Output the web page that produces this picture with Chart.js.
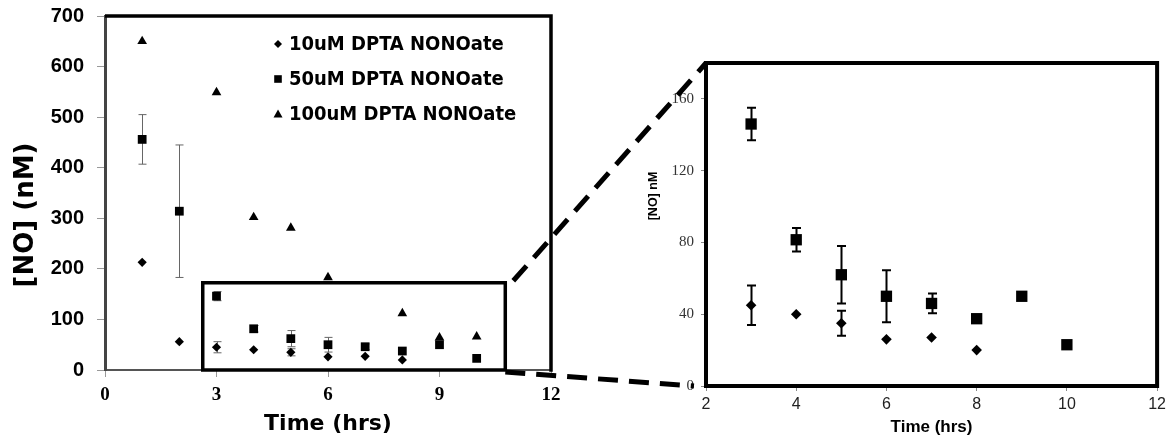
<!DOCTYPE html>
<html>
<head>
<meta charset="utf-8">
<script src="https://cdn.jsdelivr.net/npm/chart.js@4.4.0/dist/chart.umd.min.js"></script>
<style>
  body { margin: 0; background: #fff; }
  #wrap { position: relative; width: 1170px; height: 442px; }
  canvas { position: absolute; top: 0; }
  #mainChart { left: 0; }
  #zoomChart { left: 640px; }
  #overlay { left: 0; pointer-events: none; }
</style>
</head>
<body>
<div id="wrap">
  <canvas id="mainChart" width="600" height="442"></canvas>
  <canvas id="zoomChart" width="530" height="442"></canvas>
  <canvas id="overlay" width="1170" height="442"></canvas>
</div>
<script>
// values (nM)
const times = [1, 2, 3, 4, 5, 6, 7, 8, 9, 10];
const no10uM = [213, 56, 45, 40, 35, 26, 27, 20, null, null];
const no10uMErr = [0, 0, 11, 0, 7, 0, 0, 0, 0, 0];
const no50uM = [456, 314, 146, 81.5, 62, 50, 46, 37.5, 50, 23];
const no50uMErr = [49, 131, 9, 6.5, 16, 14.5, 5.5, 0, 0, 0];
const no100uM = [650, null, 549, 302, 281, 183, null, 112, 64, 66];
const seriesLabels = ["10uM DPTA NONOate", "50uM DPTA NONOate", "100uM DPTA NONOate"];

const mainXTicks = [0, 3, 6, 9, 12];
const mainYTicks = [0, 100, 200, 300, 400, 500, 600, 700];
const zoomXTicks = [2, 4, 6, 8, 10, 12];
const zoomYTicks = [0, 40, 80, 120, 160];
// region of the main chart that is blown up on the right
const zoomRange = { xMin: 2.63, xMax: 10.77, yMin: 0, yMax: 172.5 };

function toPoints(values, errors, keep) {
  return times
    .map((t, i) => ({ x: t, y: values[i], err: errors ? errors[i] : 0 }))
    .filter(p => p.y !== null && (!keep || keep(p)));
}

function setTicks(list) {
  return scale => { scale.ticks = list.map(v => ({ value: v })); };
}

const errorBars = {
  id: "errorBars",
  beforeDatasetsDraw(chart, args, opts) {
    const ctx = chart.ctx;
    const yScale = chart.scales.y;
    ctx.save();
    ctx.strokeStyle = opts.color;
    ctx.lineWidth = opts.width;
    chart.data.datasets.forEach((ds, di) => {
      const meta = chart.getDatasetMeta(di);
      ds.data.forEach((p, i) => {
        if (!p.err) return;
        const x = Math.round(meta.data[i].x) + 0.5;
        const top = yScale.getPixelForValue(p.y + p.err);
        const bottom = yScale.getPixelForValue(p.y - p.err);
        ctx.beginPath();
        ctx.moveTo(x, top);
        ctx.lineTo(x, bottom);
        ctx.moveTo(x - opts.cap, top);
        ctx.lineTo(x + opts.cap, top);
        ctx.moveTo(x - opts.cap, bottom);
        ctx.lineTo(x + opts.cap, bottom);
        ctx.stroke();
      });
    });
    ctx.restore();
  }
};

// top and right edges of the plot box
const frame = {
  id: "frame",
  afterDraw(chart, args, opts) {
    const { ctx, chartArea: a } = chart;
    ctx.save();
    ctx.strokeStyle = opts.color;
    ctx.lineWidth = opts.width;
    ctx.beginPath();
    ctx.moveTo(a.left, a.top);
    ctx.lineTo(a.right, a.top);
    ctx.lineTo(a.right, a.bottom + opts.width / 2);
    ctx.stroke();
    ctx.restore();
  }
};

const zoomBox = {
  id: "zoomBox",
  afterDatasetsDraw(chart) {
    const { ctx, scales } = chart;
    const x1 = scales.x.getPixelForValue(zoomRange.xMin);
    const x2 = scales.x.getPixelForValue(zoomRange.xMax);
    const y1 = scales.y.getPixelForValue(zoomRange.yMax);
    const y2 = scales.y.getPixelForValue(zoomRange.yMin);
    ctx.save();
    ctx.strokeStyle = "#000";
    ctx.lineWidth = 3.5;
    ctx.strokeRect(x1, y1, x2 - x1, y2 - y1);
    ctx.restore();
  }
};

function drawMarker(ctx, style, x, y, r) {
  ctx.beginPath();
  if (style === "rectRot") {
    ctx.moveTo(x - r, y); ctx.lineTo(x, y - r); ctx.lineTo(x + r, y); ctx.lineTo(x, y + r);
  } else if (style === "rect") {
    ctx.rect(x - r, y - r, 2 * r, 2 * r);
  } else {
    ctx.moveTo(x, y - r); ctx.lineTo(x + r, y + r * 0.8); ctx.lineTo(x - r, y + r * 0.8);
  }
  ctx.closePath();
  ctx.fill();
}

const legendBox = {
  id: "legendBox",
  afterDraw(chart, args, opts) {
    const ctx = chart.ctx;
    ctx.save();
    ctx.fillStyle = "#000";
    ctx.font = opts.font;
    ctx.textBaseline = "middle";
    chart.data.datasets.forEach((ds, i) => {
      const y = opts.y + i * opts.rowGap;
      drawMarker(ctx, ds.pointStyle, opts.x, y, opts.markerSize[i]);
      ctx.fillText(ds.label, opts.x + 11, y + 1);
    });
    ctx.restore();
  }
};

const sideTitle = {
  id: "sideTitle",
  afterDraw(chart, args, opts) {
    const ctx = chart.ctx;
    ctx.save();
    ctx.translate(opts.x, opts.y);
    ctx.rotate(-Math.PI / 2);
    ctx.font = opts.font;
    ctx.fillStyle = "#000";
    ctx.textAlign = "center";
    ctx.textBaseline = "middle";
    ctx.fillText(opts.text, 0, 0);
    ctx.restore();
  }
};

const mainChart = new Chart(document.getElementById("mainChart"), {
  type: "scatter",
  data: {
    datasets: [
      { label: seriesLabels[0], data: toPoints(no10uM, no10uMErr), pointStyle: "rectRot", pointRadius: 4.6, backgroundColor: "#000", borderWidth: 0 },
      { label: seriesLabels[1], data: toPoints(no50uM, no50uMErr), pointStyle: "rect", pointRadius: 6.2, backgroundColor: "#000", borderWidth: 0 },
      { label: seriesLabels[2], data: toPoints(no100uM), pointStyle: "triangle", pointRadius: 5.6, backgroundColor: "#000", borderWidth: 0 }
    ]
  },
  options: {
    responsive: false,
    animation: false,
    events: [],
    layout: { padding: { top: 16, right: 49, left: 0, bottom: 0 } },
    plugins: {
      legend: { display: false },
      tooltip: { enabled: false },
      errorBars: { color: "#666", width: 1, cap: 4 },
      frame: { color: "#000", width: 3.5 },
      legendBox: { x: 278, y: 44, rowGap: 35, font: "bold 20px 'DejaVu Sans Condensed', 'DejaVu Sans'", markerSize: [4, 3.8, 4.5] },
      sideTitle: { text: "[NO] (nM)", x: 26, y: 215, font: "bold 26px 'DejaVu Sans'" }
    },
    scales: {
      x: {
        type: "linear", min: 0, max: 12,
        afterBuildTicks: setTicks(mainXTicks),
        afterFit: s => { s.height = 72; },
        border: { color: "#555", width: 2 },
        grid: { drawOnChartArea: false, tickLength: 7, color: "#999" },
        ticks: { color: "#000", padding: 7, maxRotation: 0, font: { family: "'Liberation Serif'", weight: "bold", size: 19 } },
        title: { display: true, text: "Time (hrs)", color: "#000", padding: { top: 0, bottom: 5 }, font: { family: "'DejaVu Sans'", weight: "bold", size: 22 } }
      },
      y: {
        min: 0, max: 700,
        afterBuildTicks: setTicks(mainYTicks),
        afterFit: s => { s.width = 105; s.paddingTop = 0; s.paddingBottom = 0; },
        border: { color: "#444", width: 3 },
        grid: { drawOnChartArea: false, tickLength: 8, color: "#999" },
        ticks: { color: "#000", padding: 13, font: { family: "'Liberation Sans'", weight: "bold", size: 20 } }
      }
    }
  },
  plugins: [errorBars, frame, zoomBox, legendBox, sideTitle]
});

const inZoom = p => p.x >= zoomRange.xMin && p.x <= zoomRange.xMax && p.y <= zoomRange.yMax;

const zoomChart = new Chart(document.getElementById("zoomChart"), {
  type: "scatter",
  data: {
    datasets: [
      { label: seriesLabels[0], data: toPoints(no10uM, no10uMErr, inZoom), pointStyle: "rectRot", pointRadius: 5.3, backgroundColor: "#000", borderWidth: 0 },
      { label: seriesLabels[1], data: toPoints(no50uM, no50uMErr, inZoom), pointStyle: "rect", pointRadius: 8, backgroundColor: "#000", borderWidth: 0 }
    ]
  },
  options: {
    responsive: false,
    animation: false,
    events: [],
    layout: { padding: { top: 63, right: 10, left: 0, bottom: 0 } },
    plugins: {
      legend: { display: false },
      tooltip: { enabled: false },
      errorBars: { color: "#000", width: 2, cap: 4.5 },
      frame: { color: "#000", width: 4 },
      sideTitle: { text: "[NO] nM", x: 14, y: 196, font: "bold 12.5px 'Liberation Sans'" }
    },
    scales: {
      x: {
        type: "linear", min: 2, max: 12,
        afterBuildTicks: setTicks(zoomXTicks),
        afterFit: s => { s.height = 56; },
        border: { color: "#000", width: 4 },
        grid: { drawOnChartArea: false, tickLength: 5, color: "#888" },
        ticks: { color: "#222", padding: 4, maxRotation: 0, font: { family: "'Liberation Sans'", size: 16 } },
        title: { display: true, text: "Time (hrs)", color: "#000", padding: { top: 0, bottom: 4 }, font: { family: "'Liberation Sans'", weight: "bold", size: 17 } }
      },
      y: {
        min: 0, max: 180,
        afterBuildTicks: setTicks(zoomYTicks),
        afterFit: s => { s.width = 66; },
        border: { color: "#000", width: 4 },
        grid: { drawOnChartArea: false, tickLength: 5, color: "#888" },
        ticks: { color: "#333", padding: 7, font: { family: "'Liberation Serif'", size: 15 } }
      }
    }
  },
  plugins: [errorBars, frame, sideTitle]
});

// dashed connectors from the zoom box to the enlarged plot
function drawConnectors() {
  const ctx = document.getElementById("overlay").getContext("2d");
  const zoomOffset = 640;
  const boxRight = mainChart.scales.x.getPixelForValue(zoomRange.xMax);
  const boxTop = mainChart.scales.y.getPixelForValue(zoomRange.yMax);
  const boxBottom = mainChart.scales.y.getPixelForValue(zoomRange.yMin);
  const area = zoomChart.chartArea;
  ctx.strokeStyle = "#000";
  ctx.lineWidth = 5;
  ctx.setLineDash([20, 11]);
  ctx.beginPath();
  ctx.moveTo(boxRight + 8, boxTop - 2);
  ctx.lineTo(zoomOffset + area.left, area.top);
  ctx.moveTo(boxRight, boxBottom + 2);
  ctx.lineTo(zoomOffset + area.left - 12, area.bottom);
  ctx.stroke();
}

drawConnectors();
</script>
</body>
</html>
